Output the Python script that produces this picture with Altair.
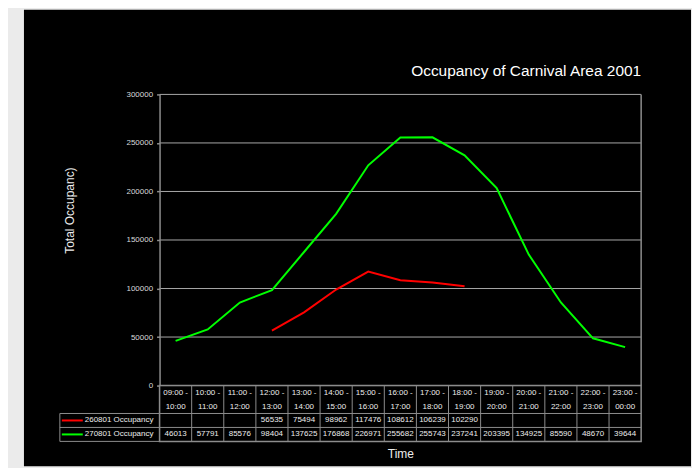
import altair as alt
import pandas as pd

# ---------------- data ----------------
slot_start = ["09:00", "10:00", "11:00", "12:00", "13:00", "14:00", "15:00", "16:00",
              "17:00", "18:00", "19:00", "20:00", "21:00", "22:00", "23:00"]
slot_end = ["10:00", "11:00", "12:00", "13:00", "14:00", "15:00", "16:00", "17:00",
            "18:00", "19:00", "20:00", "21:00", "22:00", "23:00", "00:00"]
series_names = ["260801 Occupancy", "270801 Occupancy"]
occ_260801 = [None, None, None, 56535, 75494, 98962, 117476, 108612, 106239, 102290,
              None, None, None, None, None]
occ_270801 = [46013, 57791, 85576, 98404, 137625, 176868, 226971, 255682, 255743,
              237241, 203395, 134925, 85590, 48670, 39644]
y_ticks = [0, 50000, 100000, 150000, 200000, 250000, 300000]
series_colors = ["#ff0000", "#00ff00"]
table_rows = ["h1", "h2", "r1", "r2"]

slots = [f"{a} - {b}" for a, b in zip(slot_start, slot_end)]

line_rows = []
for name, vals in zip(series_names, [occ_260801, occ_270801]):
    for s, v in zip(slots, vals):
        if v is not None:
            line_rows.append({"slot": s, "series": name, "value": v})
line_df = pd.DataFrame(line_rows)

cells = []
for s, a, b in zip(slots, slot_start, slot_end):
    cells.append({"col": s, "row": "h1", "text": a + " -"})
    cells.append({"col": s, "row": "h2", "text": b})
for key, vals in zip(["r1", "r2"], [occ_260801, occ_270801]):
    for s, v in zip(slots, vals):
        if v is not None:
            cells.append({"col": s, "row": key, "text": str(v)})
cells_df = pd.DataFrame(cells)
legend_df = pd.DataFrame({"series": series_names, "row": ["r1", "r2"]})
grid_df = pd.DataFrame({"value": y_ticks})

# ---------------- styles ----------------
FONT = "Liberation Sans"
LINEC = "#8c8c8c"
GRIDC = "#a8a8a8"
TEXTC = "#ececec"
LABELC = "#d9d9d9"
W, H, TH = 483, 292, 56

color_scale = alt.Scale(domain=series_names, range=series_colors)
y_scale = alt.Scale(domain=[0, 300000], nice=False)

# ---------------- top chart ----------------
bg = alt.Chart(alt.Data(values=[{}])).mark_rect(color="#000000").encode(
    x=alt.value(-136), x2=alt.value(533), y=alt.value(-85), y2=alt.value(373)
)

grid = alt.Chart(grid_df).mark_rule(color=GRIDC, strokeWidth=1).encode(
    y=alt.Y("value:Q", scale=y_scale)
)

right_border = alt.Chart(alt.Data(values=[{}])).mark_rule(color=LINEC, strokeWidth=1.5).encode(
    x=alt.value("width"), y=alt.value(0), y2=alt.value("height")
)

lines = alt.Chart(line_df).mark_line(strokeWidth=2).encode(
    x=alt.X("slot:N", scale=alt.Scale(type="point", domain=slots, padding=0.5), axis=None),
    y=alt.Y(
        "value:Q",
        scale=y_scale,
        axis=alt.Axis(
            values=y_ticks, format="d", labelFontSize=8, labelColor=LABELC, labelFont=FONT,
            labelPadding=4, tickSize=3, tickColor=LINEC, tickWidth=1.5,
            domainColor=LINEC, domainWidth=1.5, grid=False, zindex=1,
            title="Total Occupanc)", titleFontSize=12, titleFontWeight="normal",
            titleColor=TEXTC, titleFont=FONT, titleX=-90.5, titleY=116,
            titleBaseline="middle", titleAngle=270, titleAlign="center",
        ),
    ),
    color=alt.Color("series:N", scale=color_scale, legend=None),
)

top = alt.layer(bg, grid, right_border, lines).properties(
    width=W, height=H,
    title=alt.TitleParams(
        "Occupancy of Carnival Area 2001", anchor="end", frame="group",
        baseline="alphabetic", offset=-82, fontSize=15.5, fontWeight="normal",
        color="#ffffff", font=FONT,
    ),
)

# ---------------- table chart ----------------
xband = alt.Scale(type="band", domain=slots, paddingInner=0, paddingOuter=0)
yband = alt.Scale(type="band", domain=table_rows, paddingInner=0, paddingOuter=0)
time_axis = alt.Axis(labels=False, ticks=False, domain=False, grid=False, title="Time",
                     titleFontSize=12, titleFontWeight="normal", titleColor=TEXTC,
                     titleFont=FONT, titlePadding=7)

col_lines = alt.Chart(pd.DataFrame({"col": slots})).mark_rule(color=LINEC, strokeWidth=1).encode(
    x=alt.X("col:N", bandPosition=0, scale=xband, axis=time_axis)
)
h_lines = alt.Chart(pd.DataFrame({"row": ["r1", "r2"]})).mark_rule(color=LINEC, strokeWidth=1).encode(
    x=alt.value(-100), x2=alt.value("width"),
    y=alt.Y("row:N", bandPosition=0, scale=yband, axis=None),
)
bottom_line = alt.Chart(alt.Data(values=[{}])).mark_rule(color=LINEC, strokeWidth=1).encode(
    x=alt.value(-100), x2=alt.value(0), y=alt.value("height")
)
legend_left = alt.Chart(pd.DataFrame({"row": ["r1"]})).mark_rule(color=LINEC, strokeWidth=1).encode(
    x=alt.value(-100),
    y=alt.Y("row:N", bandPosition=0, scale=yband, axis=None),
    y2=alt.value("height"),
)
cell_text = alt.Chart(cells_df).mark_text(fontSize=8, color=TEXTC, font=FONT).encode(
    x=alt.X("col:N", scale=xband, axis=time_axis),
    y=alt.Y("row:N", scale=yband, axis=None),
    text="text:N",
)
legend_swatch = alt.Chart(legend_df).mark_rule(strokeWidth=2).encode(
    x=alt.value(-98), x2=alt.value(-77),
    y=alt.Y("row:N", scale=yband, axis=None),
    color=alt.Color("series:N", scale=color_scale, legend=None),
)
legend_text = alt.Chart(legend_df).mark_text(align="left", fontSize=8, color=TEXTC, font=FONT).encode(
    x=alt.value(-75),
    y=alt.Y("row:N", scale=yband, axis=None),
    text="series:N",
)

table = alt.layer(col_lines, h_lines, bottom_line, legend_left, cell_text,
                  legend_swatch, legend_text).properties(width=W, height=TH)

chart = (
    alt.vconcat(top, table, spacing=0, bounds="flush")
    .resolve_scale(x="independent", y="independent", color="independent")
    .properties(background="#ebebeb", padding={"left": 15, "top": 0, "right": 0, "bottom": 0})
    .configure(font=FONT)
    .configure_view(stroke=LINEC, strokeWidth=1.5)
)

chart.save("out.html", embed_options={"renderer": "svg", "actions": False})
